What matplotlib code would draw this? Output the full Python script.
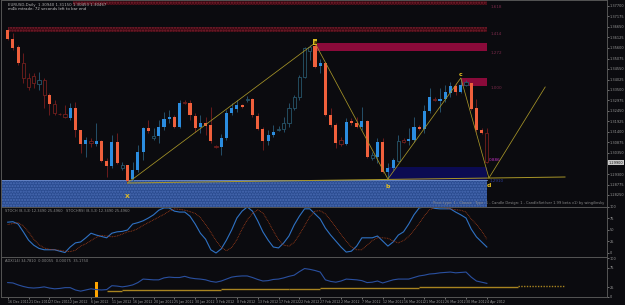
import numpy as np
import matplotlib
matplotlib.use("Agg")
import matplotlib.pyplot as plt

# --> Daily candles, prices
bar_open = [1.3650, 1.3605, 1.3565, 1.3485, 1.3410, 1.3420, 1.3380, 1.3400, 1.3325, 1.3280,
            1.3230, 1.3230, 1.3210, 1.3260, 1.3150, 1.3080, 1.3095, 1.3080, 1.3095, 1.2995,
            1.2970, 1.3090, 1.2960, 1.2975, 1.2905, 1.2950, 1.3040, 1.3160, 1.3110, 1.3120,
            1.3165, 1.3205, 1.3215, 1.3165, 1.3290, 1.3285, 1.3220, 1.3165, 1.3185, 1.3175,
            1.3070, 1.3065, 1.3110, 1.3235, 1.3255, 1.3275, 1.3300, 1.3305, 1.3220, 1.3155,
            1.3095, 1.3125, 1.3150, 1.3155, 1.3185, 1.3260, 1.3315, 1.3415, 1.3545, 1.3570,
            1.3470, 1.3485, 1.3225, 1.3175, 1.3100, 1.3080, 1.3195, 1.3185, 1.3165, 1.3195,
            1.3010, 1.3015, 1.3090, 1.2940, 1.2960, 1.2995, 1.3100, 1.3095, 1.3100, 1.3165,
            1.3155, 1.3245, 1.3305, 1.3295, 1.3305, 1.3335, 1.3370, 1.3340, 1.3375, 1.3385,
            1.3260, 1.3150, 1.3135]
bar_high = [1.3660, 1.3635, 1.3575, 1.3535, 1.3435, 1.3435, 1.3440, 1.3410, 1.3335, 1.3300,
            1.3235, 1.3275, 1.3285, 1.3290, 1.3150, 1.3115, 1.3110, 1.3185, 1.3100, 1.3010,
            1.3125, 1.3135, 1.2990, 1.2975, 1.2990, 1.3075, 1.3165, 1.3200, 1.3160, 1.3200,
            1.3240, 1.3250, 1.3225, 1.3300, 1.3300, 1.3300, 1.3235, 1.3225, 1.3215, 1.3265,
            1.3075, 1.3130, 1.3250, 1.3285, 1.3300, 1.3280, 1.3320, 1.3310, 1.3235, 1.3165,
            1.3150, 1.3175, 1.3170, 1.3215, 1.3285, 1.3325, 1.3425, 1.3565, 1.3575, 1.3585,
            1.3505, 1.3490, 1.3260, 1.3185, 1.3115, 1.3210, 1.3210, 1.3215, 1.3265, 1.3200,
            1.3040, 1.3110, 1.3110, 1.2985, 1.3010, 1.3125, 1.3110, 1.3160, 1.3215, 1.3175,
            1.3275, 1.3360, 1.3315, 1.3360, 1.3375, 1.3390, 1.3385, 1.3410, 1.3400, 1.3390,
            1.3305, 1.3160, 1.3160]
bar_low = [1.3600, 1.3550, 1.3475, 1.3385, 1.3350, 1.3360, 1.3350, 1.3260, 1.3225, 1.3225,
           1.3225, 1.3210, 1.3200, 1.3115, 1.3035, 1.3015, 1.3065, 1.3070, 1.2990, 1.2915,
           1.2960, 1.2980, 1.2950, 1.2885, 1.2890, 1.2940, 1.3000, 1.3135, 1.3100, 1.3085,
           1.3150, 1.3185, 1.3160, 1.3160, 1.3280, 1.3200, 1.3140, 1.3135, 1.3125, 1.3085,
           1.3060, 1.3025, 1.3100, 1.3225, 1.3240, 1.3260, 1.3290, 1.3215, 1.3150, 1.3050,
           1.3075, 1.3115, 1.3145, 1.3140, 1.3165, 1.3250, 1.3300, 1.3410, 1.3500, 1.3460,
           1.3435, 1.3220, 1.3165, 1.3060, 1.3070, 1.3075, 1.3175, 1.3160, 1.3150, 1.3010,
           1.3000, 1.2985, 1.2935, 1.2905, 1.2950, 1.2990, 1.3085, 1.3075, 1.3090, 1.3150,
           1.3135, 1.3235, 1.3295, 1.3240, 1.3290, 1.3315, 1.3325, 1.3335, 1.3370, 1.3250,
           1.3140, 1.3130, 1.2985]
bar_close = [1.3605, 1.3560, 1.3485, 1.3410, 1.3365, 1.3385, 1.3400, 1.3325, 1.3280, 1.3235,
             1.32275, 1.3215, 1.3260, 1.3150, 1.3080, 1.3100, 1.3085, 1.3095, 1.2995, 1.2970,
             1.3090, 1.2985, 1.2975, 1.2895, 1.2950, 1.3040, 1.3160, 1.3145, 1.3120, 1.3165,
             1.3205, 1.3215, 1.3165, 1.3285, 1.3285, 1.3225, 1.3160, 1.3185, 1.3170, 1.3095,
             1.3065, 1.3110, 1.3235, 1.3260, 1.3275, 1.3265, 1.3305, 1.3225, 1.3155, 1.3095,
             1.3125, 1.3140, 1.3155, 1.3185, 1.3260, 1.3315, 1.3415, 1.3560, 1.3565, 1.3465,
             1.3485, 1.3225, 1.3175, 1.3085, 1.3080, 1.3190, 1.3185, 1.3165, 1.3195, 1.3015,
             1.3025, 1.3090, 1.2940, 1.2960, 1.3000, 1.3095, 1.3090, 1.3105, 1.3165, 1.3155,
             1.3245, 1.3315, 1.3300, 1.3305, 1.3340, 1.3370, 1.3340, 1.3375, 1.3390, 1.3255,
             1.3150, 1.3135, 1.2990]
# 1 = highlighted candle, 0 = dimmed outline candle
bar_lit = [1, 1, 1, 0, 0, 0, 0, 0, 1, 0,
           0, 0, 1, 1, 1, 1, 0, 1, 1, 1,
           1, 1, 0, 1, 1, 1, 1, 1, 0, 1,
           1, 1, 1, 1, 0, 1, 1, 1, 1, 1,
           0, 1, 1, 1, 1, 1, 0, 1, 1, 1,
           1, 1, 0, 0, 0, 0, 0, 0, 0, 1,
           1, 1, 1, 1, 0, 1, 1, 1, 1, 1,
           0, 1, 1, 1, 1, 0, 0, 1, 1, 1,
           1, 1, 0, 1, 1, 1, 1, 1, 0, 1,
           1, 1, 0]

date_labels = ["16 Dec 2011", "21 Dec 2011", "27 Dec 2011", "2 Jan 2012", "6 Jan 2012",
               "11 Jan 2012", "16 Jan 2012", "20 Jan 2012", "25 Jan 2012", "30 Jan 2012",
               "3 Feb 2012", "8 Feb 2012", "13 Feb 2012", "17 Feb 2012", "22 Feb 2012",
               "27 Feb 2012", "2 Mar 2012", "7 Mar 2012", "12 Mar 2012", "16 Mar 2012",
               "21 Mar 2012", "26 Mar 2012", "30 Mar 2012", "4 Apr 2012"]
date_step = 4

price_ticks = [1.37700, 1.37175, 1.36650, 1.36125, 1.35600, 1.35075, 1.34550, 1.34025,
               1.33500, 1.32975, 1.32450, 1.31925, 1.31400, 1.30875, 1.30350,
               1.29300, 1.28775, 1.28250]
stoch_ticks = [0, 25, 50, 75, 100]
osc_ticks = [0, 25, 75, 100]

# --> Oscillators
stoch_main = [67, 68, 63, 46, 28, 17, 10, 7, 7, 7,
              4, 1, 13, 22, 24, 33, 43, 39, 36, 33,
              43, 46, 47, 50, 63, 66, 70, 76, 83, 93,
              98, 98, 91, 89, 89, 80, 63, 43, 30, 7,
              0, 9, 28, 50, 76, 91, 100, 91, 70, 46,
              28, 13, 11, 22, 37, 61, 80, 96, 96, 85,
              74, 54, 39, 26, 13, 2, 4, 15, 33, 33,
              33, 37, 26, 15, 24, 39, 46, 63, 83, 98,
              100, 100, 97, 96, 96, 96, 89, 83, 76, 52,
              35, 24, 13]
stoch_signal = [62, 64, 66, 59, 46, 30, 18, 11, 8, 7,
                6, 4, 3, 6, 15, 20, 27, 34, 38, 37,
                35, 37, 41, 46, 48, 53, 60, 66, 72, 78,
                84, 91, 96, 95, 93, 90, 86, 77, 62, 45,
                27, 12, 5, 12, 29, 52, 72, 86, 94, 87,
                69, 48, 29, 17, 15, 23, 40, 59, 79, 91,
                92, 85, 71, 56, 40, 26, 13, 7, 7, 17,
                27, 33, 33, 32, 26, 22, 27, 36, 49, 64,
                81, 94, 99, 99, 98, 96, 94, 93, 89, 74,
                62, 48, 30]
osc_line = [37, 36, 31, 27, 24, 23, 24, 26, 23, 21,
            22, 24, 24, 18, 15, 18, 21, 19, 18, 19,
            29, 28, 26, 28, 31, 37, 46, 45, 44, 44,
            49, 51, 50, 50, 53, 49, 47, 46, 44, 40,
            38, 41, 46, 51, 53, 54, 54, 50, 45, 41,
            42, 45, 46, 49, 53, 56, 65, 73, 71, 68,
            64, 44, 40, 38, 41, 46, 45, 44, 42, 37,
            38, 41, 36, 40, 44, 46, 46, 46, 50, 54,
            56, 59, 60, 62, 63, 64, 62, 63, 64, 51,
            41, 38, 35]
osc_step_edges = [19, 22, 41, 54, 60, 79, 98, 107]
osc_step_levels = [16, 18, 20, 21, 23, 26, 28]
osc_spike_bar = 17
osc_spike_value = 38

# --> XABCD pattern (bar index, price)
pattern_bar = [23, 59, 73, 87, 92.4, 103.2]
pattern_price = [1.2885, 1.3585, 1.2905, 1.3410, 1.2910, 1.3365]
pattern_names = ["X", "a", "b", "c", "d"]
trend_bar = [23, 107]
trend_price = [1.2885, 1.2915]

# --> Zones
zone_start = [12.5, 0, 59, 87, 73, -2]
zone_end = [92.1, 92.1, 92.1, 92.1, 92.1, 92.1]
zone_low = [1.3775, 1.3640, 1.3545, 1.3370, 1.2900, 1.2700]
zone_high = [1.3795, 1.3665, 1.3585, 1.3410, 1.2965, 1.2900]
zone_kind = ["dots", "dots", "solid", "solid", "navy", "blue"]
zone_tags = ["1.618", "1.414", "1.272", "1.000", "", ""]

BG = "#0b0b0f"
W, H = 625, 305
bar_px, first_px, plot_right = 5.217, 6.7, 607


def px_rect(x0, y0, x1, y1):
    return [x0 / W, 1 - y1 / H, (x1 - x0) / W, (y1 - y0) / H]


fig = plt.figure(figsize=(W / 100, H / 100), dpi=100, facecolor=BG)
ax = fig.add_axes(px_rect(1, 0, plot_right, 207))
ax_st = fig.add_axes(px_rect(1, 207, plot_right, 257))
ax_os = fig.add_axes(px_rect(1, 257, plot_right, 297))

xlim = (-first_px / bar_px, (plot_right - first_px) / bar_px)
for a in (ax, ax_st, ax_os):
    a.set_facecolor(BG)
    a.set_xlim(*xlim)
    for s in a.spines.values():
        s.set_color("#555555")
        s.set_linewidth(0.7)
    a.yaxis.tick_right()
    a.tick_params(axis="y", colors="#9a9a9a", labelsize=2.5, length=1.2, width=0.5, pad=1)
    a.tick_params(axis="x", colors="#9a9a9a", labelsize=2.3, length=1.2, width=0.5, pad=1)
ax.set_xticks([])
ax_st.set_xticks([])

ax.set_ylim(1.2765, 1.3800)
ax.set_yticks(price_ticks)
ax.set_yticklabels(["%.5f" % v for v in price_ticks])

# --> Zones
for x0, x1, lo, hi, kind, tag in zip(zone_start, zone_end, zone_low, zone_high, zone_kind, zone_tags):
    if kind == "dots":
        ax.fill_between([x0, x1], lo, hi, facecolor="#3a0a12", edgecolor="#7a1e2e",
                        hatch="......", linewidth=0, zorder=1)
    elif kind == "solid":
        ax.fill_between([x0, x1], lo, hi, facecolor="#8a0a3a", linewidth=0, zorder=1)
    elif kind == "navy":
        ax.fill_between([x0, x1], lo, hi, facecolor="#0b0b52", linewidth=0, zorder=1)
    else:
        ax.fill_between([x0, x1], lo, hi, facecolor="#2b4c90", edgecolor="#4a6cb4",
                        hatch="......", linewidth=0, zorder=1)
        ax.plot([x0, x1], [hi, hi], color="#6a88c8", lw=0.6, zorder=1)
    if tag:
        ax.text(x1 + 0.6, lo, tag, color="#7a2a4a", fontsize=3, va="top", ha="left")

# --> Candles
idx = np.arange(len(bar_open))
o, h, l, c = (np.array(v) for v in (bar_open, bar_high, bar_low, bar_close))
bull = c >= o
lit = np.array(bar_lit) == 1
body_lo = np.minimum(o, c)
body_h = np.maximum(np.abs(c - o), 0.0003)

wick_col = np.where(bull, "#2a5a78", "#7a1e1e")
ax.vlines(idx, l, h, colors=wick_col, lw=0.6, zorder=2)
lit_col = np.where(bull, "#2b8de0", "#f0603c")
ax.bar(idx[lit], body_h[lit], bottom=body_lo[lit], width=0.6,
       color=lit_col[lit], linewidth=0, zorder=3)
dim_col = np.where(bull, "#27566a", "#74201e")
ax.bar(idx[~lit], body_h[~lit], bottom=body_lo[~lit], width=0.6,
       facecolor=BG, edgecolor=dim_col[~lit], linewidth=0.6, zorder=3)

# --> Pattern lines
ax.plot(pattern_bar, pattern_price, color="#a89628", lw=0.55, zorder=4)
ax.plot(trend_bar, trend_price, color="#a89628", lw=0.7, zorder=4)
offsets = [-0.0080, 0.0004, -0.0050, 0.0007, -0.0050]
for name, xb, yp, off in zip(pattern_names, pattern_bar, pattern_price, offsets):
    if name == "a":
        ax.text(xb, yp + off, name, color="#2a2000", fontsize=3.5, ha="center", va="center",
                fontweight="bold", zorder=5,
                bbox=dict(boxstyle="square,pad=0.1", fc="#d8b820", ec="none"))
    else:
        ax.text(xb, yp + off, name, color="#e8c020", fontsize=4.5, ha="center",
                va="bottom", fontweight="bold", zorder=5)
ax.text(92.3, bar_close[-1] + 0.0004, "0.886", color="#c030c0", fontsize=3, zorder=5)
ax.text(92.6, 1.2905, "1.2910", color="#2a3a9a", fontsize=3, va="top", zorder=5)

# --> Current price tag
fig.text(609 / W, 1 - 162.5 / H, "%.5f" % bar_close[-1], fontsize=2.5, color="#111111",
         va="center", ha="left",
         bbox=dict(boxstyle="square,pad=0.15", fc="#c8c8c8", ec="none"))

# --> Texts
fig.text(8 / W, 1 - 5 / H, "EURUSD,Daily  1.30940 1.31150 1.30453 1.30467",
         fontsize=2.8, color="#b0b0b0", va="center")
fig.text(8 / W, 1 - 9.5 / H, "m4b mtrade: 72 seconds left to bar end",
         fontsize=2.8, color="#c8c8c8", va="center")
fig.text(604 / W, 1 - 203 / H,
         "Pivot type: 1 - Classic   Type: 1 - Candle Design: 1 - CandleSet(ver 1.99 beta v1) by wingilinsky",
         fontsize=2.6, color="#8a8a8a", ha="right", va="center", zorder=6)

# --> Stochastic
ax_st.set_ylim(-8.7, 100)
ax_st.set_yticks(stoch_ticks)
ax_st.plot(idx, stoch_main, color="#2f72c4", lw=0.8)
ax_st.plot(idx, stoch_signal, color="#a8401a", lw=0.6, ls=(0, (1, 1)))
fig.text(5 / W, 1 - 210.5 / H,
         "STOCH (8,3,3) 12.3490 25.4960   STOCHRSI (8,3,3) 12.3490 25.4960",
         fontsize=2.6, color="#8a8a8a", va="center")

# --> Lower oscillator
ax_os.set_ylim(0, 102.6)
ax_os.set_yticks(osc_ticks)
ax_os.plot(idx, osc_line, color="#2a50a0", lw=0.8)
for i, lev in enumerate(osc_step_levels):
    last = i == len(osc_step_levels) - 1
    ax_os.hlines(lev, osc_step_edges[i], osc_step_edges[i + 1], color="#a88420",
                 lw=1.0, ls=(0, (1, 1)) if last else "-")
ax_os.bar([osc_spike_bar], [osc_spike_value], width=0.5, color="#ffa500", linewidth=0)
fig.text(5 / W, 1 - 260.5 / H, "ADX(14) 34.7810  0.00055  0.00075  35.1750",
         fontsize=2.6, color="#8a8a8a", va="center")

ax_os.set_xticks(np.arange(len(date_labels)) * date_step)
ax_os.set_xticklabels(date_labels, ha="left")

fig.savefig("out.png", dpi=100, facecolor=BG)
